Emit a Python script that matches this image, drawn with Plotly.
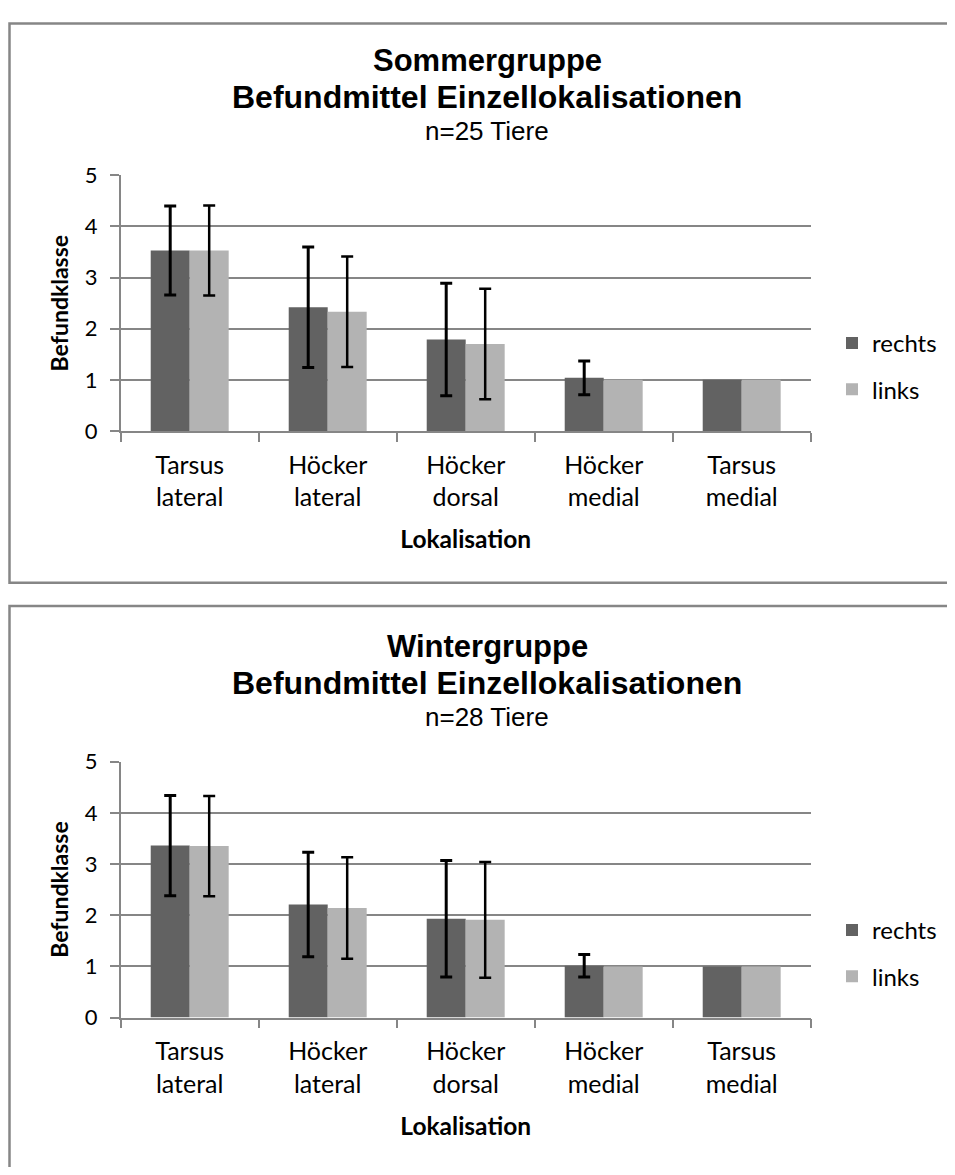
import plotly.graph_objects as go

# canvas fits inside the 955x1175 window together with the 8px body margin
W, H = 939, 1159
OFF = 8

categories = ["Tarsus<br>lateral", "Höcker<br>lateral", "Höcker<br>dorsal", "Höcker<br>medial", "Tarsus<br>medial"]
series_names = ["rechts", "links"]

sommer_rechts = [3.53, 2.42, 1.79, 1.04, 1.00]
sommer_rechts_sd = [0.87, 1.18, 1.10, 0.33, None]
sommer_links = [3.53, 2.33, 1.70, 1.00, 1.00]
sommer_links_sd = [0.88, 1.08, 1.08, None, None]

winter_rechts = [3.36, 2.21, 1.93, 1.01, 1.00]
winter_rechts_sd = [0.98, 1.02, 1.14, 0.22, None]
winter_links = [3.35, 2.14, 1.91, 1.00, 1.00]
winter_links_sd = [0.98, 0.99, 1.13, None, None]

y_ticks = [0, 1, 2, 3, 4, 5]

titles = [
    ("Sommergruppe", "Befundmittel Einzellokalisationen", "n=25 Tiere"),
    ("Wintergruppe", "Befundmittel Einzellokalisationen", "n=28 Tiere"),
]

DARK = "#626262"
LIGHT = "#b3b3b3"
GRID = "#868686"
CAL = "Lato, Carlito, Calibri, sans-serif"
ARIAL = "Liberation Sans, Arial, sans-serif"


def py(px):
    return 1 - (px - OFF) / H


def pxx(px):
    return (px - OFF) / W


def trim(sd):
    # drop trailing missing values so that no error bar (or cap) is drawn there
    out = list(sd)
    while out and out[-1] is None:
        out.pop()
    return out


fig = go.Figure()

panels = [
    (sommer_rechts, sommer_rechts_sd, sommer_links, sommer_links_sd, "x", "y", "legend"),
    (winter_rechts, winter_rechts_sd, winter_links, winter_links_sd, "x2", "y2", "legend2"),
]

for r, rsd, l, lsd, xa, ya, lg in panels:
    for name, vals, sd, col, th in [(series_names[0], r, rsd, DARK, 3), (series_names[1], l, lsd, LIGHT, 2.5)]:
        fig.add_trace(go.Bar(
            x=categories, y=vals, name=name, marker=dict(color=col, line=dict(width=0)),
            error_y=dict(type="data", array=trim(sd), visible=True, color="black", thickness=th, width=6),
            xaxis=xa, yaxis=ya, legend=lg, legendgroup=name + lg,
        ))

x_dom = [pxx(120.7), pxx(810.7)]
top_dom = [py(426.7), py(165)]
bot_dom = [py(1027.3), py(765.3)]

axis_common_x = dict(
    domain=x_dom, showgrid=False, showline=True, linecolor=GRID, linewidth=1.5,
    ticks="outside", tickson="boundaries", ticklen=9, tickcolor=GRID, tickwidth=1.5,
    tickfont=dict(family=CAL, size=25, color="#000"), ticklabelstandoff=11,
    title=dict(text="<b>Lokalisation</b>", font=dict(family=CAL, size=24.5, color="#000"), standoff=21),
)
axis_common_y = dict(
    range=[0, 5], tickvals=y_ticks, showgrid=True, gridcolor=GRID, gridwidth=1.5,
    showline=True, linecolor=GRID, linewidth=1.5, ticks="outside", ticklen=9,
    tickcolor=GRID, tickwidth=1.5, zeroline=False,
    tickfont=dict(family=CAL, size=22, color="#000"), ticklabelstandoff=8,
    title=dict(text="<b>Befundklasse</b>", font=dict(family=CAL, size=23, color="#000"), standoff=10),
)

legend_common = dict(xanchor="left", yanchor="top", font=dict(family=CAL, size=24, color="#000"),
                     tracegroupgap=12, traceorder="grouped", itemwidth=30, bgcolor="rgba(0,0,0,0)")

fig.update_layout(
    width=W, height=H, margin=dict(l=0, r=0, t=0, b=0),
    paper_bgcolor="white", plot_bgcolor="white",
    barmode="group", bargap=0.435, bargroupgap=0,
    xaxis=dict(axis_common_x, anchor="y"),
    yaxis=dict(axis_common_y, domain=top_dom, anchor="x"),
    xaxis2=dict(axis_common_x, anchor="y2"),
    yaxis2=dict(axis_common_y, domain=bot_dom, anchor="x2"),
    legend=dict(legend_common, x=pxx(832), y=py(314)),
    legend2=dict(legend_common, x=pxx(832), y=py(915)),
    showlegend=True,
)

shapes = []
annotations = []
for i, (t1, t2, t3) in enumerate(titles):
    off = i * 600
    top_edge = 9.5 if i == 0 else 606
    shapes.append(dict(type="rect", xref="paper", yref="paper",
                       x0=pxx(9.5), x1=pxx(1000), y0=py(top_edge), y1=py(582 if i == 0 else 1300),
                       line=dict(color=GRID, width=2.5), fillcolor="rgba(0,0,0,0)", layer="below"))
    cx = pxx(487)
    annotations.append(dict(text="<b>" + t1 + "</b>", x=cx, y=py(47 + off), xref="paper", yref="paper",
                            showarrow=False, xanchor="center", yanchor="middle",
                            font=dict(family=ARIAL, size=31, color="#000")))
    annotations.append(dict(text="<b>" + t2 + "</b>", x=cx, y=py(85 + off), xref="paper", yref="paper",
                            showarrow=False, xanchor="center", yanchor="middle",
                            font=dict(family=ARIAL, size=32, color="#000")))
    annotations.append(dict(text=t3, x=cx, y=py(120 + off), xref="paper", yref="paper",
                            showarrow=False, xanchor="center", yanchor="middle",
                            font=dict(family=ARIAL, size=26, color="#000")))

fig.update_layout(shapes=shapes, annotations=annotations)

fig.write_html("out.html")
